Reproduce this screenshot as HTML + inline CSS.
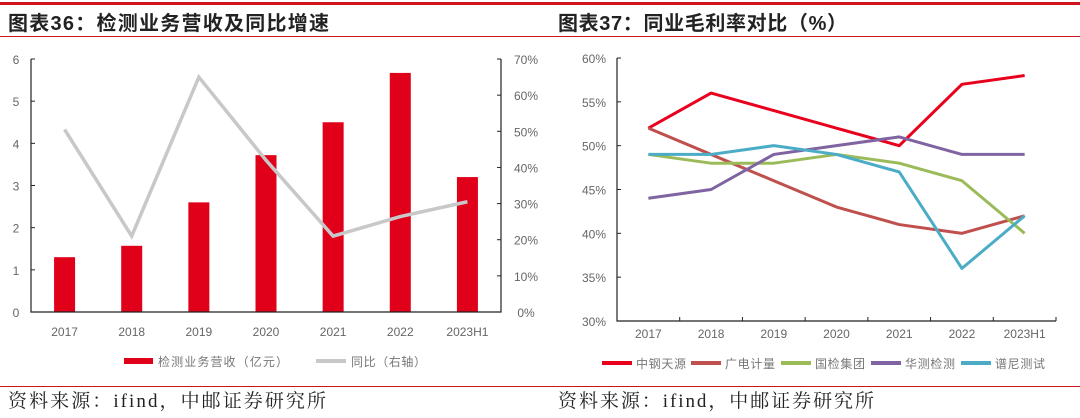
<!DOCTYPE html>
<html><head><meta charset="utf-8"><style>
body{margin:0;width:1080px;height:413px;overflow:hidden;background:#fff;font-family:"Liberation Sans","Noto Sans CJK SC",sans-serif}
svg text{font-family:"Liberation Sans","Noto Sans CJK SC",sans-serif}
</style></head><body>
<svg id="s" width="1080" height="413">
<rect x="0" y="2" width="1080" height="3" fill="#d0131e"/>
<rect x="0" y="36" width="1080" height="1" fill="#d0131e"/>
<rect x="0" y="386" width="1080" height="1" fill="#d0131e"/>
<text x="8" y="30" font-size="20" font-weight="bold" fill="#222" textLength="321" lengthAdjust="spacing" style="font-family:'Liberation Sans','Noto Sans CJK SC',sans-serif">图表36：检测业务营收及同比增速</text>
<text x="558" y="30" font-size="20" font-weight="bold" fill="#222" textLength="289" lengthAdjust="spacing" style="font-family:'Liberation Sans','Noto Sans CJK SC',sans-serif">图表37：同业毛利率对比（%）</text>
<text x="8" y="407" font-size="19" fill="#222" textLength="318" lengthAdjust="spacing" style="font-family:'Liberation Serif','Noto Serif CJK SC',serif">资料来源：ifind，中邮证券研究所</text>
<text x="558" y="407" font-size="19" fill="#222" textLength="316" lengthAdjust="spacing" style="font-family:'Liberation Serif','Noto Serif CJK SC',serif">资料来源：ifind，中邮证券研究所</text>
<g id="c1"></g>
<g id="c2"></g>
</svg>
<script>
const cats1=["2017","2018","2019","2020","2021","2022","2023H1"];
const revenue=[1.3,1.57,2.6,3.72,4.5,5.67,3.2];
const growth=[50.5,21,65,42,21,26.4,30.5];
const leftTicks=[0,1,2,3,4,5,6];
const rightTicks=[0,10,20,30,40,50,60,70];
const cats2=["2017","2018","2019","2020","2021","2022","2023H1"];
const seriesNames=["中钢天源","广电计量","国检集团","华测检测","谱尼测试"];
const s1=[52,56,54,52,50,57,58];
const s2=[52,49,46,43,41,40,42];
const s3=[49,48,48,49,48,46,40];
const s4=[44,45,49,50,51,49,49];
const s5=[49,49,50,49,47,36,42];
const marginTicks=[30,35,40,45,50,55,60];
const NS="http://www.w3.org/2000/svg";
function mk(p,t,a,txt){const e=document.createElementNS(NS,t);for(const k in a)e.setAttribute(k,a[k]);if(txt!==undefined)e.textContent=txt;p.appendChild(e);return e;}
// chart 1
const g1=document.getElementById('c1');
const L1=31,R1=501,T1=59,B1=312,n1=cats1.length,bw1=(R1-L1)/n1;
const x1=i=>L1+bw1*(i+0.5);
const yl=v=>B1-(v-0)/(6-0)*(B1-T1);
const yr=v=>B1-v/70*(B1-T1);
leftTicks.forEach(v=>{let t=mk(g1,'text',{x:16,y:yl(v)+5,'font-size':12,fill:'#666','text-anchor':'middle'},String(v));
let l=mk(g1,'line',{x1:L1,x2:L1+4,y1:yl(v),y2:yl(v),stroke:'#222'});});
rightTicks.forEach(v=>{let t=mk(g1,'text',{x:526,y:yr(v)+5,'font-size':12,fill:'#666','text-anchor':'middle'},v+'%');
let l=mk(g1,'line',{x1:R1-4,x2:R1,y1:yr(v),y2:yr(v),stroke:'#222'});});
revenue.forEach((v,i)=>{let r=mk(g1,'rect',{x:x1(i)-10.5,y:yl(v),width:21,height:B1-yl(v),fill:'#e0001a'});});
let pl=mk(g1,'polyline',{points:growth.map((v,i)=>x1(i)+','+yr(v)).join(' '),fill:'none',stroke:'#c8c8c8','stroke-width':3.5});

let ax=mk(g1,'path',{d:`M${L1},${T1}V${B1}H${R1}V${T1}`,fill:'none',stroke:'#222','stroke-width':1.2});
cats1.forEach((c,i)=>{let t=mk(g1,'text',{x:x1(i),y:336,'font-size':12,fill:'#666','text-anchor':'middle'},c);});
let lg=mk(g1,'rect',{x:124,y:358,width:29,height:6,fill:'#e0001a'});
let lt=mk(g1,'text',{x:158,y:366,'font-size':12,fill:'#777',textLength:130,lengthAdjust:'spacing'},'检测业务营收（亿元）');
let lg2=mk(g1,'line',{x1:316,x2:346,y1:361,y2:361,stroke:'#c8c8c8','stroke-width':4});
let lt2=mk(g1,'text',{x:351,y:366,'font-size':12,fill:'#777',textLength:75,lengthAdjust:'spacing'},'同比（右轴）');
// chart 2
const g2=document.getElementById('c2');
const L2=617,R2=1056,T2=58,B2=321,n2=cats2.length,bw2=(R2-L2)/n2;
const x2=i=>L2+bw2*(i+0.5);
const y2=v=>B2-(v-30)/30*(B2-T2);
marginTicks.forEach(v=>{let t=mk(g2,'text',{x:594,y:y2(v)+5,'font-size':12,fill:'#666','text-anchor':'middle'},v+'%');
let l=mk(g2,'line',{x1:L2,x2:L2+4,y1:y2(v),y2:y2(v),stroke:'#222'});});
for(let i=1;i<=n2;i++){let l=mk(g2,'line',{x1:L2+bw2*i,x2:L2+bw2*i,y1:B2-4,y2:B2,stroke:'#222'});}
let ax2=mk(g2,'path',{d:`M${L2},${T2}V${B2}H${R2}`,fill:'none',stroke:'#222','stroke-width':1.2});
const colors=['#e8001c','#c0504d','#9bbb59','#8064a2','#4bacc6'];
const allS=[s1,s2,s3,s4,s5];
allS.forEach((s,k)=>{let p=mk(g2,'polyline',{points:s.map((v,i)=>x2(i)+','+y2(v)).join(' '),fill:'none',stroke:colors[k],'stroke-width':3,'stroke-linejoin':'round'});});
cats2.forEach((c,i)=>{let t=mk(g2,'text',{x:x2(i),y:338,'font-size':12,fill:'#666','text-anchor':'middle'},c);});
const legX=[602,691,781,871,961];
seriesNames.forEach((nm,k)=>{let l=mk(g2,'line',{x1:legX[k],x2:legX[k]+30,y1:363,y2:363,stroke:colors[k],'stroke-width':4});
let t=mk(g2,'text',{x:legX[k]+34,y:368,'font-size':12,fill:'#777',textLength:50,lengthAdjust:'spacing'},nm);});
</script>
</body></html>
